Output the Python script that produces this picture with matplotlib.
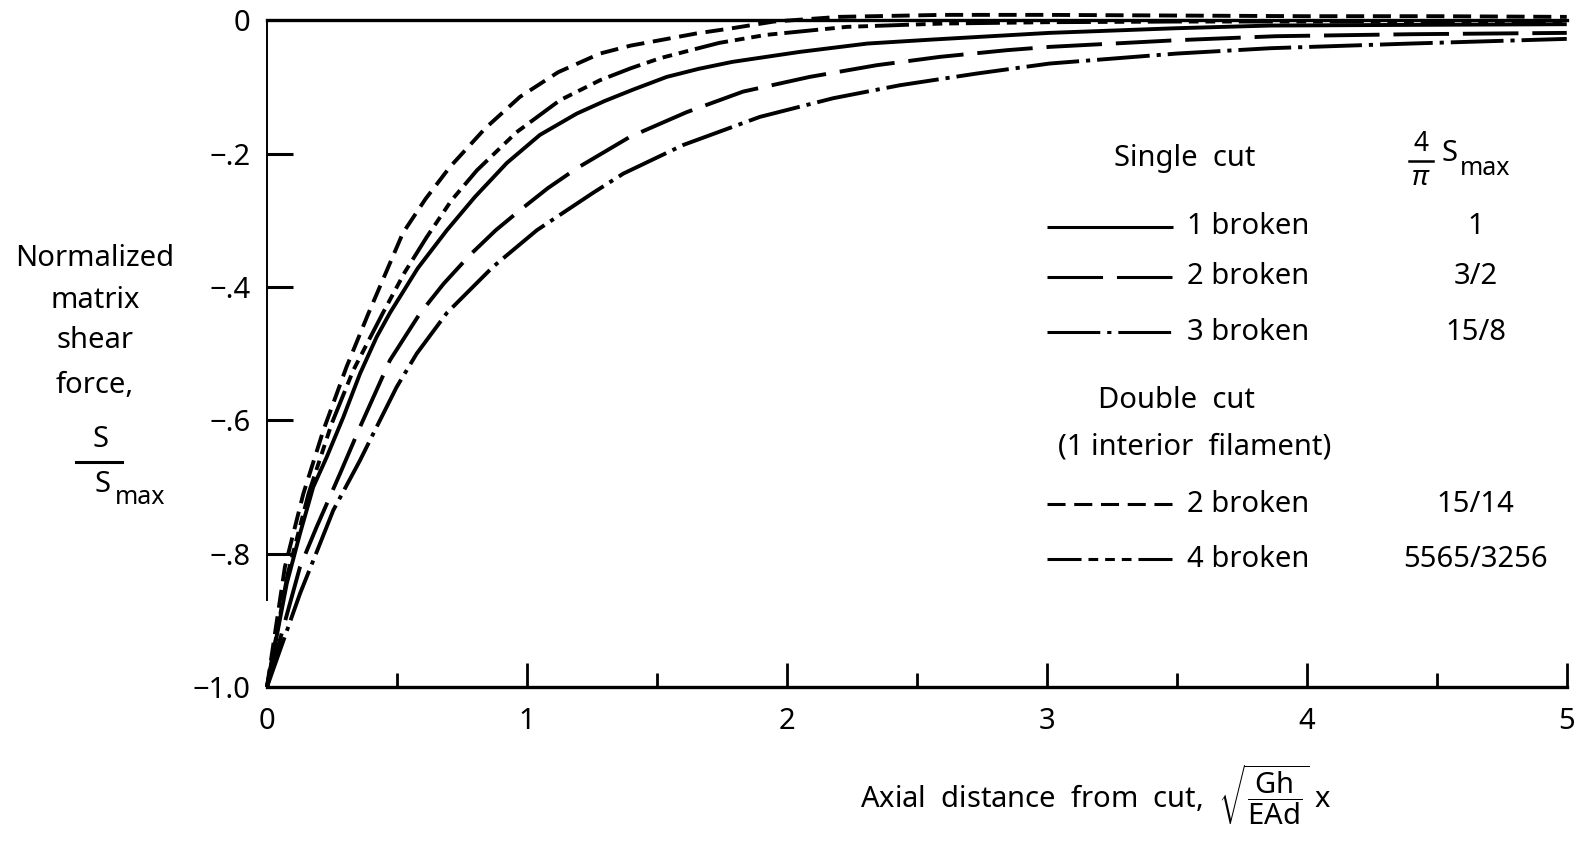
import matplotlib
matplotlib.use("Agg")
import matplotlib.pyplot as plt
from matplotlib.lines import Line2D

plt.rcParams['font.family'] = ['Noto Sans', 'DejaVu Sans']
plt.rcParams['mathtext.fontset'] = 'custom'
plt.rcParams['mathtext.rm'] = 'Noto Sans'
plt.rcParams['mathtext.it'] = 'Noto Sans:italic'
plt.rcParams['mathtext.bf'] = 'Noto Sans:bold'
plt.rcParams['lines.scale_dashes'] = False

# ------------------------------------------------------------
# Data (x = axial distance, y = S/Smax)
# ------------------------------------------------------------

# single cut, 1 broken (solid)
x_s1 = [0, 0.076, 0.127, 0.178, 0.230, 0.294, 0.358, 0.422, 0.473, 0.58, 0.692, 0.80, 0.923,
        1.05, 1.192, 1.30, 1.409, 1.538, 1.66, 1.79, 2.05, 2.31, 2.56, 3.01, 3.5, 3.86, 4.4, 5.0]
y_s1 = [-1.0, -0.845, -0.77, -0.70, -0.655, -0.595, -0.53, -0.475, -0.439, -0.372, -0.315, -0.265, -0.214,
        -0.172, -0.140, -0.121, -0.104, -0.085, -0.073, -0.0625, -0.0475, -0.035, -0.029, -0.019,
        -0.012, -0.008, -0.007, -0.006]

# single cut, 2 broken (long dashes)
x_s2 = [0, 0.127, 0.191, 0.281, 0.358, 0.473, 0.588, 0.68, 0.781, 0.88, 0.973, 1.08, 1.192,
        1.396, 1.614, 1.832, 2.088, 2.345, 2.588, 2.845, 3.01, 3.5, 3.88, 4.4, 5.0]
y_s2 = [-1.0, -0.82, -0.76, -0.68, -0.61, -0.51, -0.44, -0.395, -0.352, -0.315, -0.285, -0.252, -0.222,
        -0.175, -0.138, -0.107, -0.085, -0.0675, -0.055, -0.045, -0.040, -0.030, -0.024, -0.021, -0.019]

# single cut, 3 broken (dash-dot)
x_s3 = [0, 0.127, 0.204, 0.255, 0.358, 0.409, 0.499, 0.576, 0.692, 0.869, 1.038, 1.254,
        1.371, 1.602, 1.896, 2.178, 2.435, 2.73, 3.01, 3.5, 3.86, 4.4, 5.0]
y_s3 = [-1.0, -0.86, -0.785, -0.735, -0.66, -0.62, -0.55, -0.50, -0.439, -0.370, -0.315, -0.259,
        -0.230, -0.187, -0.145, -0.117, -0.0975, -0.080, -0.065, -0.050, -0.042, -0.035, -0.028]

# double cut, 2 broken (medium dashes)
x_d2 = [0, 0.069, 0.140, 0.217, 0.306, 0.390, 0.523, 0.61, 0.704, 0.84, 0.973, 1.12, 1.281,
        1.40, 1.512, 1.65, 1.79, 1.95, 2.2, 2.6, 3.0, 3.5, 4.0, 4.5, 5.0]
y_d2 = [-1.0, -0.82, -0.71, -0.615, -0.52, -0.44, -0.319, -0.268, -0.220, -0.162, -0.115, -0.078, -0.050,
        -0.038, -0.030, -0.020, -0.012, -0.002, 0.005, 0.008, 0.008, 0.007, 0.006, 0.006, 0.005]

# double cut, 4 broken (long/short dashes)
x_d4 = [0, 0.08, 0.16, 0.249, 0.332, 0.446, 0.53, 0.615, 0.71, 0.808, 0.96, 1.127, 1.281,
        1.40, 1.512, 1.63, 1.74, 1.92, 2.23, 2.6, 3.0, 3.5, 4.0, 4.5, 5.0]
y_d4 = [-1.0, -0.83, -0.71, -0.605, -0.525, -0.439, -0.378, -0.325, -0.270, -0.225, -0.168, -0.120, -0.090,
        -0.072, -0.057, -0.045, -0.034, -0.022, -0.010, -0.005, -0.003, -0.002, -0.002, -0.002, -0.002]

labels = ["1 broken", "2 broken", "3 broken", "2 broken", "4 broken"]
smax_values = ["1", "3/2", "15/8", "15/14", "5565/3256"]

x_ticks = [0, 1, 2, 3, 4, 5]
y_ticks = [0, -0.2, -0.4, -0.6, -0.8, -1.0]
y_tick_labels = ["0", "\u2212.2", "\u2212.4", "\u2212.6", "\u2212.8", "\u22121.0"]

# ------------------------------------------------------------
# Styles
# ------------------------------------------------------------

LW = 2.8
styles = [
    '-',
    (0, (40, 10)),
    (0, (38, 5, 3, 5)),
    (0, (13, 6.25)),
    (0, (24.5, 5, 7, 5, 7, 5, 7, 5)),
]
series = [(x_s1, y_s1), (x_s2, y_s2), (x_s3, y_s3), (x_d2, y_d2), (x_d4, y_d4)]

FS = 21

fig = plt.figure(figsize=(15.89, 8.42), dpi=100)
ax = fig.add_axes([0.168, 0.184, 0.818, 0.792])

for (xs, ys), ls in zip(series, styles):
    ax.plot(xs, ys, color='black', lw=LW, linestyle=ls, clip_on=False,
            solid_capstyle='butt', dash_capstyle='butt', solid_joinstyle='round')

ax.set_xlim(0, 5)
ax.set_ylim(-1.0, 0)

ax.spines['right'].set_visible(False)
ax.spines['top'].set_linewidth(2.4)
ax.spines['bottom'].set_linewidth(2.4)
ax.spines['left'].set_linewidth(1.4)
ax.spines['left'].set_bounds(-0.87, 0)

ax.set_xticks(x_ticks)
ax.set_xticklabels([str(v) for v in x_ticks], fontsize=FS)
ax.set_xticks([0.5, 1.5, 2.5, 3.5, 4.5], minor=True)
ax.set_yticks(y_ticks)
ax.set_yticklabels(y_tick_labels, fontsize=FS)
ax.tick_params(axis='x', which='major', direction='in', length=17, width=2.0, pad=14, top=False)
ax.tick_params(axis='x', which='minor', direction='in', length=10, width=2.0, top=False)
ax.tick_params(axis='y', which='major', direction='in', length=19, width=2.2, pad=12, right=False)
ax.xaxis.get_major_ticks()[0].tick1line.set_visible(False)
ax.yaxis.get_major_ticks()[0].tick1line.set_visible(False)
ax.yaxis.get_major_ticks()[-1].tick1line.set_visible(False)

# x label
ax.text(3.19, -1.163,
        r"Axial  distance  from  cut,  $\sqrt{\dfrac{\mathrm{Gh}}{\mathrm{EAd}}}\;\mathrm{x}$",
        fontsize=FS, ha='center', va='center', clip_on=False)

# y label (stacked words + fraction)
W, H = 1589, 842
for txt, py in [("Normalized", 258), ("matrix", 300), ("shear", 341), ("force,", 385)]:
    fig.text(95 / W, 1 - py / H, txt, fontsize=FS, ha='center', va='center')
fig.text(101 / W, 1 - 440 / H, "S", fontsize=FS, ha='center', va='center')
fig.add_artist(Line2D([76 / W, 122 / W], [1 - 462 / H, 1 - 462 / H],
                      color='black', lw=2.2, transform=fig.transFigure))
fig.text(103 / W, 1 - 484 / H, "S", fontsize=FS, ha='center', va='center')
fig.text(115 / W, 1 - 497 / H, "max", fontsize=FS - 3, ha='left', va='center')

# legend (drawn by hand, two sections with a value column)
lx0, lx1, tx, vx = 3.0, 3.485, 3.54, 4.65
row_y = [-0.310, -0.385, -0.468, -0.726, -0.808]
ax.text(3.53, -0.208, "Single  cut", fontsize=FS, ha='center', va='center')
# 4/pi Smax header
ax.text(4.44, -0.186, "4", fontsize=FS - 2, ha='center', va='center')
ax.text(4.44, -0.236, r"$\pi$", fontsize=FS - 1, ha='center', va='center')
ax.plot([4.395, 4.485], [-0.211, -0.211], color='black', lw=1.8)
ax.text(4.55, -0.200, "S", fontsize=FS, ha='center', va='center')
ax.text(4.59, -0.222, "max", fontsize=FS - 3, ha='left', va='center')
ax.text(3.50, -0.570, "Double  cut", fontsize=FS, ha='center', va='center')
ax.text(3.57, -0.640, "(1 interior  filament)", fontsize=FS, ha='center', va='center')
for ry, ls, lab, val in zip(row_y, styles, labels, smax_values):
    ax.plot([lx0, lx1], [ry, ry], color='black', lw=2.2, linestyle=ls,
            solid_capstyle='butt', dash_capstyle='butt')
    ax.text(tx, ry, lab, fontsize=FS, ha='left', va='center')
    ax.text(vx, ry, val, fontsize=FS, ha='center', va='center')

fig.savefig("out.png", dpi=100)
